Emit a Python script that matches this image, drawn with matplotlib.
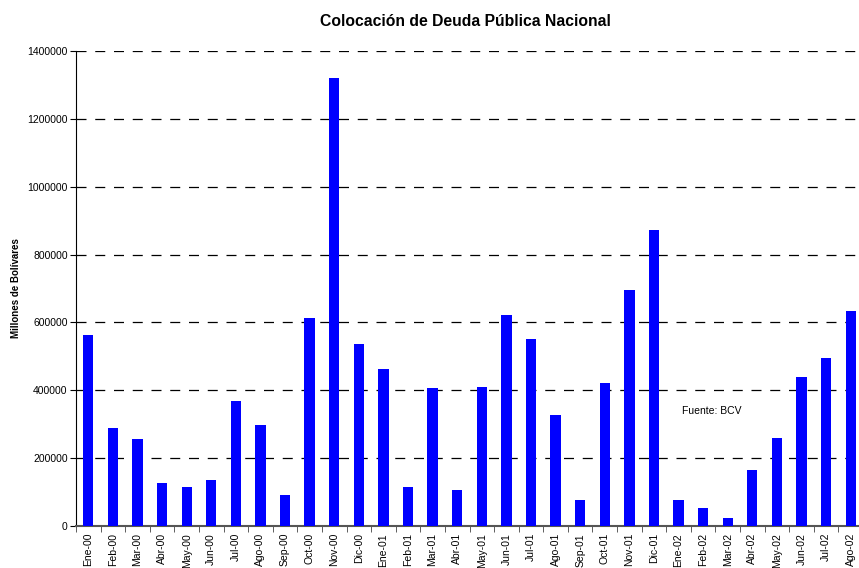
import matplotlib.pyplot as plt
import numpy as np

plt.rcParams['font.family'] = ['Liberation Sans', 'DejaVu Sans']

meses = ['Ene-00', 'Feb-00', 'Mar-00', 'Abr-00', 'May-00', 'Jun-00',
         'Jul-00', 'Ago-00', 'Sep-00', 'Oct-00', 'Nov-00', 'Dic-00',
         'Ene-01', 'Feb-01', 'Mar-01', 'Abr-01', 'May-01', 'Jun-01',
         'Jul-01', 'Ago-01', 'Sep-01', 'Oct-01', 'Nov-01', 'Dic-01',
         'Ene-02', 'Feb-02', 'Mar-02', 'Abr-02', 'May-02', 'Jun-02',
         'Jul-02', 'Ago-02']
colocacion = [563000, 289000, 257000, 127000, 115000, 136000,
              369000, 298000, 91000, 614000, 1320000, 537000,
              463000, 115000, 407000, 106000, 410000, 622000,
              551000, 327000, 77000, 422000, 696000, 873000,
              77000, 53000, 24000, 165000, 260000, 440000,
              496000, 634000]
y_ticks = [0, 200000, 400000, 600000, 800000, 1000000, 1200000, 1400000]

W, H = 859, 568
fig = plt.figure(figsize=(W / 100, H / 100), dpi=100)
ax = fig.add_axes([76 / W, 1 - 526 / H, 787 / W, 475 / H])

x = np.arange(len(meses))
ax.bar(x, colocacion, width=0.42, color='#0000ff', zorder=3)

ax.set_xlim(-0.5, len(meses) - 0.5)
ax.set_ylim(0, 1400000)
ax.set_yticks(y_ticks)
ax.set_yticklabels([str(v) for v in y_ticks], fontsize=7.5)
ax.set_xticks(x)
ax.set_xticklabels(meses, rotation=90, fontsize=7.5)
ax.set_xticks(np.arange(-0.5, len(meses)), minor=True)
ax.tick_params(axis='x', which='major', length=0, pad=5)
ax.tick_params(axis='x', which='minor', length=4, direction='out',
               color='#444444')
ax.tick_params(axis='y', length=4, direction='out', pad=2)

# dashed horizontal guides at each tick above zero
for v in y_ticks[1:]:
    ax.axhline(v, color='black', linestyle=(0, (8, 7)), linewidth=0.9,
               zorder=1)

for side in ['top', 'right']:
    ax.spines[side].set_visible(False)
ax.spines['left'].set_color('black')
ax.spines['bottom'].set_color('#555555')
ax.spines['bottom'].set_linewidth(1.5)

ax.set_ylabel('Millones de Bolívares', fontsize=7, fontweight='bold')
ax.yaxis.set_label_coords(-0.07, 0.5)
fig.text(465 / W, 1 - 22 / H, 'Colocación de Deuda Pública Nacional',
         fontsize=11.3, fontweight='bold', ha='center', va='center')
ax.text(24.13, 339000, 'Fuente: BCV', fontsize=7.5, va='center', ha='left')

fig.savefig('out.png', dpi=100)
